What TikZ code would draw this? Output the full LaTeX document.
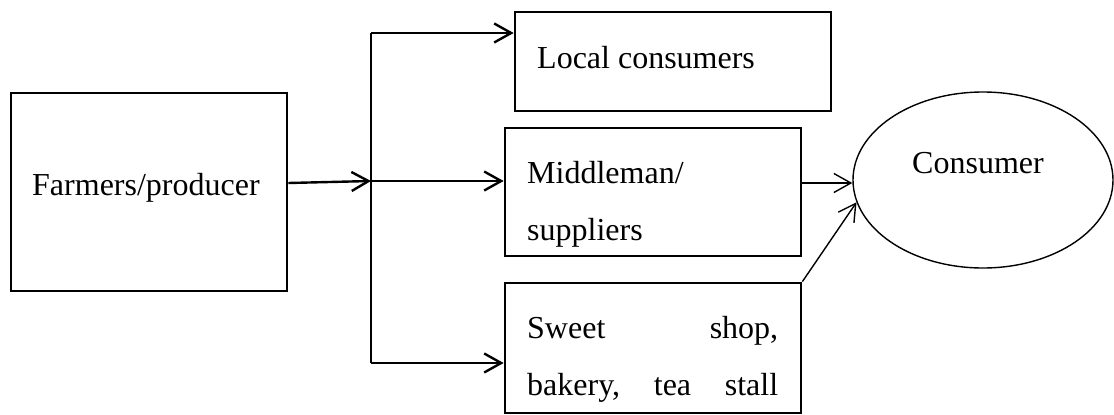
\documentclass[tikz,border=0pt]{standalone}
\usepackage{fontspec}
\setmainfont{Liberation Serif}
\usepackage{tikz}
\usetikzlibrary{shapes.geometric, arrows.meta}
\tikzstyle{box} = [rectangle, draw=black, line width=2.7pt, inner sep=0pt]
\tikzstyle{buyer} = [ellipse, draw=black, line width=1.4pt, inner sep=0pt, minimum width=260pt, minimum height=176pt]
\tikzstyle{label} = [anchor=base west, inner sep=0pt, font=\fontsize{32}{57}\selectfont]
\tikzstyle{arrow} = [line width=2.4pt, -{Straight Barb[length=17pt,width=19pt]}]
\tikzstyle{thinarrow} = [line width=1.4pt, -{Straight Barb[length=17pt,width=19pt]}]

\begin{document}
\begin{tikzpicture}[x=1pt, y=-1pt]
        \useasboundingbox (0,0) rectangle (1114,415);
        \node (farmer) [box, minimum width=276pt, minimum height=198pt] at (149,192) {};
        \node (local) [box, minimum width=316pt, minimum height=99pt] at (673,61.5) {};
        \node (middle) [box, minimum width=296pt, minimum height=128pt] at (653,192) {};
        \node (sweet) [box, minimum width=296pt, minimum height=130pt] at (653,348) {};
        \node (consumer) [buyer] at (983,180) {};

        \node (farmertext) [label] at (32,195) {Farmers/producer};
        \node (localtext) [label] at (537,68) {Local consumers};
        \node (middletext) [label, text width=260pt, align=left] at (527,183) {Middleman/\\suppliers};
        \node (sweettext) [label, text width=251pt, align=left] at (527,338) {Sweet\hfill shop,\\bakery,\hfill tea\hfill stall};
        \node (consumertext) [label] at (912,173) {Consumer};

        \coordinate (top) at (371,33);
        \coordinate (split) at (371,181);
        \coordinate (bottom) at (371,363);

        \draw [arrow] ([yshift=9pt]farmer.east) -- (split);
        \draw [line width=2.4pt] (top) -- (bottom);
        \draw [arrow] (top) -- (top -| local.west);
        \draw [arrow] (split) -- (split -| middle.west);
        \draw [arrow] (bottom) -- (bottom -| sweet.west);

        \draw [thinarrow] ([yshift=9pt]middle.east) -- ([yshift=9pt]middle.east -| consumer.west);
        \draw [thinarrow] (sweet.north east) -- (consumer.190);
        % trunk splits into three channels
    \end{tikzpicture}
\end{document}
